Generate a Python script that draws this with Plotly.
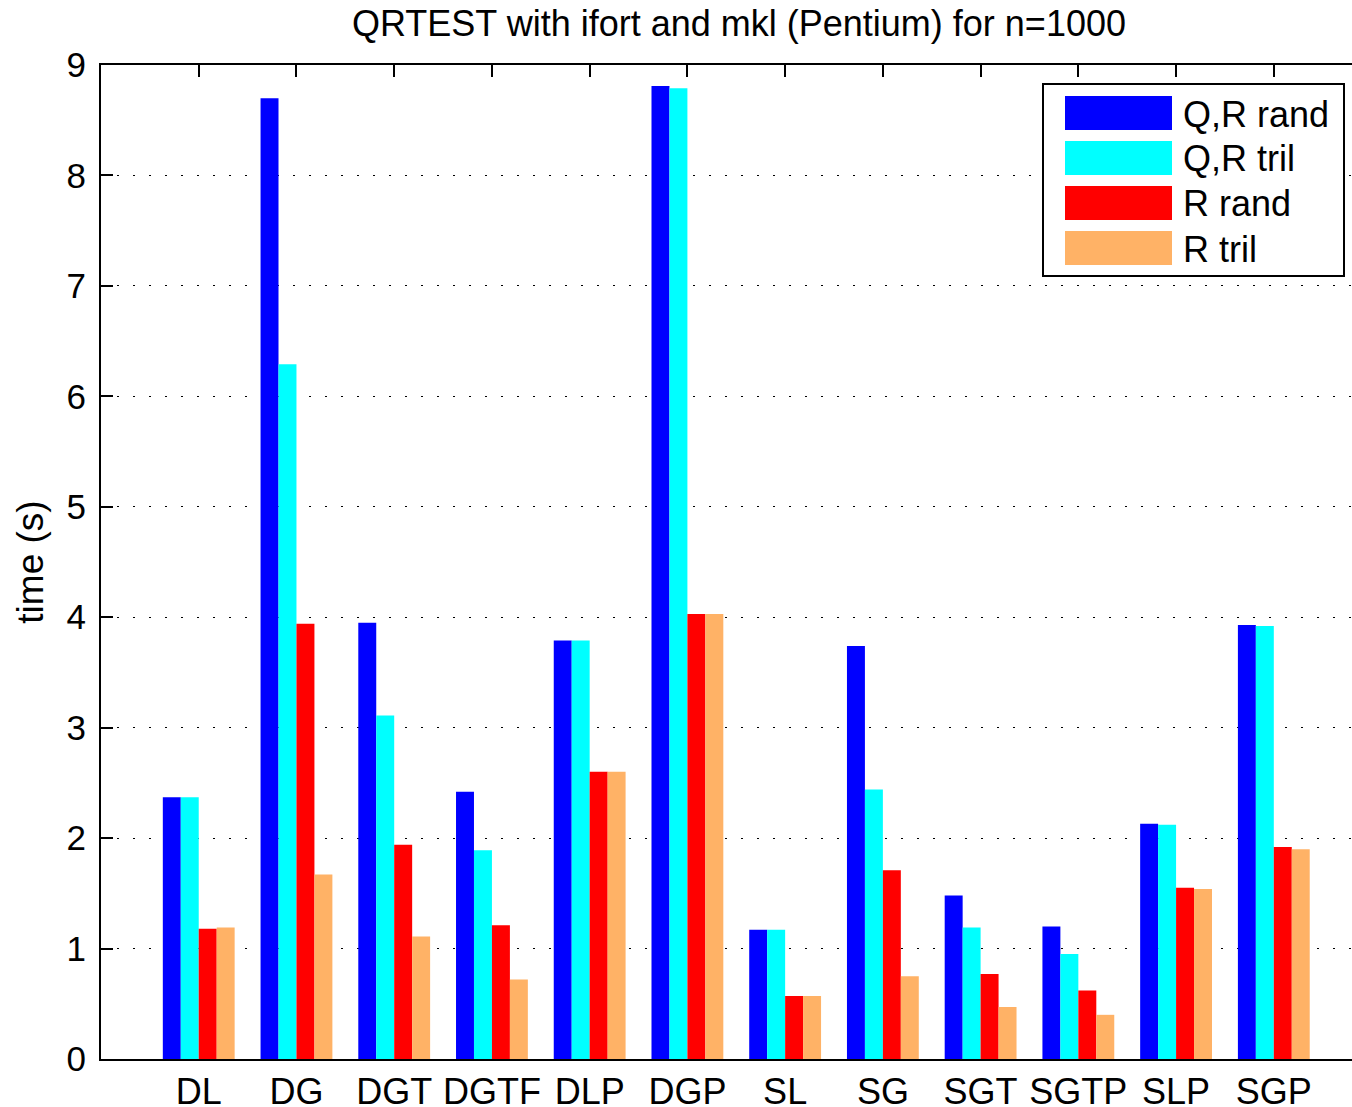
import plotly.graph_objects as go

categories = ["DL", "DG", "DGT", "DGTF", "DLP", "DGP", "SL", "SG", "SGT", "SGTP", "SLP", "SGP"]
qr_rand = [2.37, 8.70, 3.95, 2.42, 3.79, 8.81, 1.17, 3.74, 1.48, 1.20, 2.13, 3.93]
qr_tril = [2.37, 6.29, 3.11, 1.89, 3.79, 8.79, 1.17, 2.44, 1.19, 0.95, 2.12, 3.92]
r_rand = [1.18, 3.94, 1.94, 1.21, 2.60, 4.03, 0.57, 1.71, 0.77, 0.62, 1.55, 1.92]
r_tril = [1.19, 1.67, 1.11, 0.72, 2.60, 4.03, 0.57, 0.75, 0.47, 0.40, 1.54, 1.90]

series_names = ["Q,R rand", "Q,R tril", "R rand", "R tril"]
series_values = [qr_rand, qr_tril, r_rand, r_tril]
series_colors = ["#0000FF", "#00FFFF", "#FF0000", "#FFB266"]
y_ticks = [0, 1, 2, 3, 4, 5, 6, 7, 8, 9]

W, H = 1352, 1107
L, R, T, B = 101, 0, 65, 48
FONT = "Liberation Sans, Arial, Helvetica, sans-serif"

fig = go.Figure()
for name, vals, col in zip(series_names, series_values, series_colors):
    fig.add_trace(go.Bar(x=categories, y=vals, name=name,
                         marker=dict(color=col, line=dict(width=0)),
                         showlegend=False))

# invisible helper trace for top axis ticks
fig.add_trace(go.Scatter(x=[0], y=[0], xaxis="x2", mode="markers",
                         marker=dict(opacity=0), showlegend=False, hoverinfo="skip"))

fig.update_layout(
    width=W, height=H,
    margin=dict(l=L, r=R, t=T, b=B, autoexpand=False),
    paper_bgcolor="white", plot_bgcolor="white",
    barmode="group", bargap=0.265, bargroupgap=0,
    font=dict(family=FONT, color="black"),
    title=dict(text="QRTEST with ifort and mkl (Pentium) for n=1000",
               x=739 / W, xref="container", xanchor="center",
               y=1 - 23 / H, yref="container", yanchor="middle",
               font=dict(size=36, family=FONT, color="black")),
    xaxis=dict(type="category", range=[-1, 11.8], showgrid=False,
               showline=True, linecolor="black", linewidth=2,
               ticks="", tickfont=dict(size=36), ticklabelstandoff=0,
               zeroline=False, automargin=False),
    xaxis2=dict(overlaying="x", side="top", range=[-1, 11.8],
                tickvals=list(range(len(categories))), showticklabels=False,
                ticks="inside", ticklen=12, tickwidth=1.5, tickcolor="black",
                showline=True, linecolor="black", linewidth=2,
                showgrid=False, zeroline=False, automargin=False),
    yaxis=dict(range=[0, 9], tickvals=y_ticks, ticks="inside", ticklen=12,
               tickwidth=1.5, tickcolor="black", tickfont=dict(size=35),
               showline=True, linecolor="black", linewidth=2,
               showgrid=True, gridcolor="black", gridwidth=1,
               griddash="2px,14px", zeroline=False, ticklabelstandoff=6,
               automargin=False,
               title=dict(text="time (s)", font=dict(size=37), standoff=12)),
)

# custom legend (MATLAB style), in pixel -> paper coords
pw, ph = W - L - R, H - T - B
def px(x):
    return (x - L) / pw
def py(y):
    return (H - B - y) / ph

fig.add_shape(type="rect", xref="paper", yref="paper",
              x0=px(1043), x1=px(1344), y0=py(276), y1=py(84),
              line=dict(color="black", width=2), fillcolor="white", layer="above")
for i, (name, col) in enumerate(zip(series_names, series_colors)):
    top = 96 + 45 * i
    fig.add_shape(type="rect", xref="paper", yref="paper",
                  x0=px(1065), x1=px(1172), y0=py(top + 34), y1=py(top),
                  line=dict(width=0), fillcolor=col, layer="above")
    fig.add_annotation(xref="paper", yref="paper", x=px(1181), y=py(top + 18),
                       text=name, showarrow=False, xanchor="left", yanchor="middle",
                       font=dict(size=36, family=FONT, color="black"))

fig.write_html("out.html", config={"displayModeBar": False},
               post_script="document.body.style.margin='0';document.body.style.overflow='hidden';")
